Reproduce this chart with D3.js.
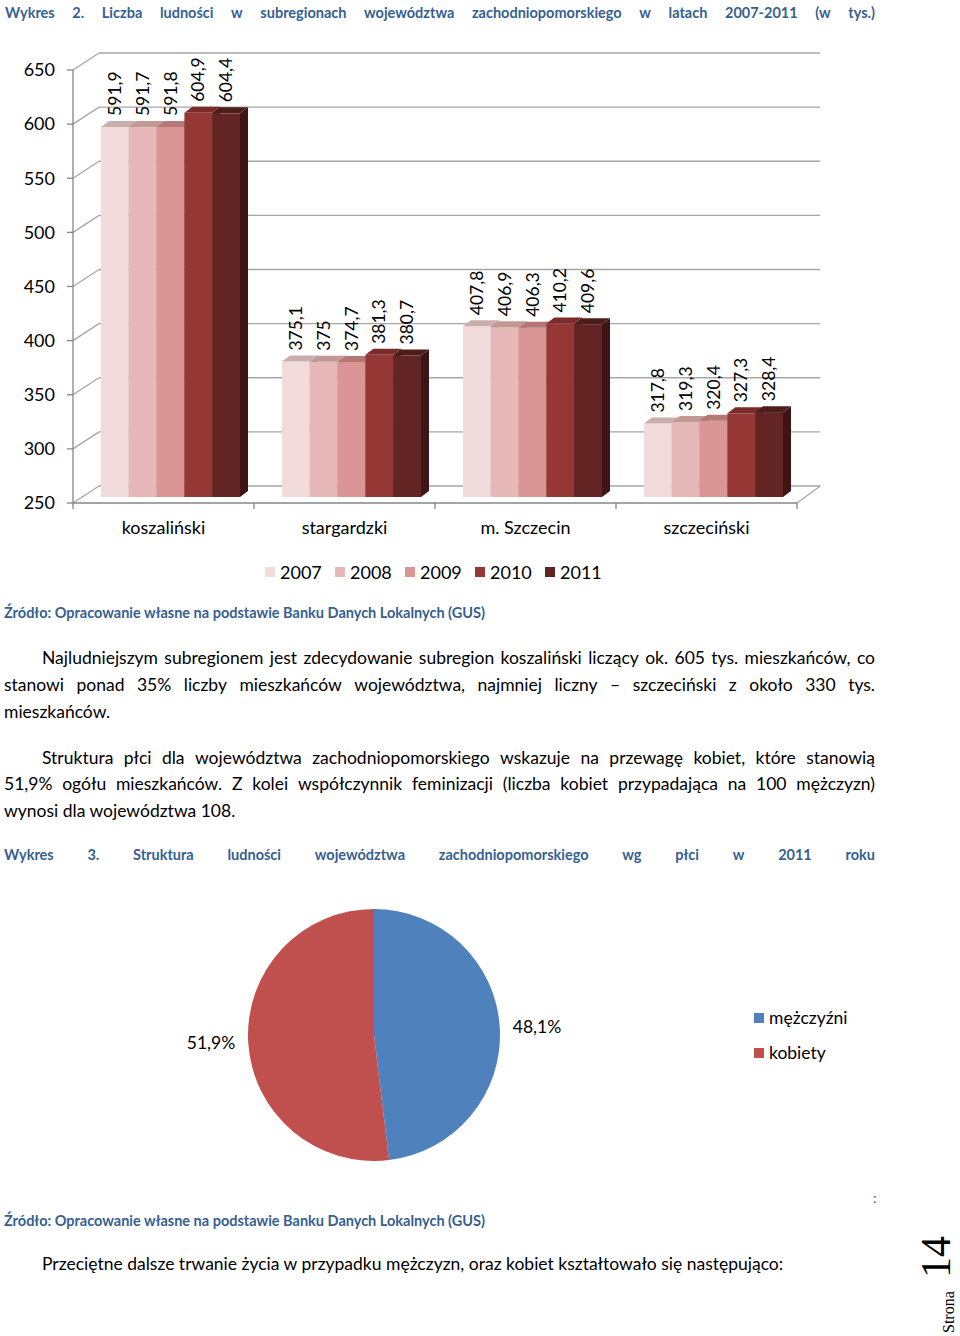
<!DOCTYPE html>
<html><head><meta charset="utf-8">
<script src="https://cdn.jsdelivr.net/npm/d3@7"></script>
<style>body{margin:0;background:#fff} svg{display:block}</style>
</head><body><script>
// ---------- DATA ----------
const categories = ["koszaliński", "stargardzki", "m. Szczecin", "szczeciński"];
const years = ["2007", "2008", "2009", "2010", "2011"];
const v2007 = [591.9, 375.1, 407.8, 317.8];
const v2008 = [591.7, 375.0, 406.9, 319.3];
const v2009 = [591.8, 374.7, 406.3, 320.4];
const v2010 = [604.9, 381.3, 410.2, 327.3];
const v2011 = [604.4, 380.7, 409.6, 328.4];
const yTicks = [250, 300, 350, 400, 450, 500, 550, 600, 650];
const pieLabels = ["mężczyźni", "kobiety"];
const pieValues = [48.1, 51.9];

const series = [v2007, v2008, v2009, v2010, v2011];
const frontCol = ["#f2dcdb", "#e6b9b8", "#d99694", "#953735", "#632523"];
const topCol   = ["#c9aeab", "#c29894", "#b47774", "#7b2c2a", "#4e1c1b"];
const sideCol  = ["#b9a09e", "#ae8683", "#9f6664", "#5f2321", "#3e1514"];

const W = 960, H = 1336;
const svg = d3.select("body").append("svg").attr("width", W).attr("height", H);
const BLUE = "#365f91";
const FONT = "Lato, 'Open Sans', sans-serif";

function justify(words, x0, x1, y, size, weight, color) {
  const g = svg.append("g");
  const nodes = words.map(w => g.append("text").text(w).attr("y", y)
    .attr("font-family", FONT).attr("font-size", size).attr("font-weight", weight)
    .attr("fill", color));
  const lens = nodes.map(n => n.node().getComputedTextLength());
  const total = d3.sum(lens);
  const gap = (x1 - x0 - total) / (words.length - 1);
  let x = x0;
  nodes.forEach((n, i) => { n.attr("x", x); x += lens[i] + gap; });
}
function plain(str, x, y, size, weight, color, anchor) {
  return svg.append("text").text(str).attr("x", x).attr("y", y)
    .attr("font-family", FONT).attr("font-size", size).attr("font-weight", weight || "normal")
    .attr("fill", color || "#000").attr("text-anchor", anchor || "start");
}

// ---------- TITLE 1 ----------
justify("Wykres 2. Liczba ludności w subregionach województwa zachodniopomorskiego w latach 2007-2011 (w tys.)".split(" "),
  5, 875, 18, 14.5, "bold", BLUE);

// ---------- 3D BAR CHART ----------
const y = d3.scaleLinear().domain([250, 650]).range([503, 70]);
const x = d3.scaleBand().domain(categories).range([73, 797]);
const xs = d3.scaleBand().domain(years).range([19, 158]);
const DX = 26, DY = -17;     // wall depth
const BX = 9, BY = -6;       // bar front plane offset
const SX = 8, SY = -6;       // bar depth
const GRID = "#a6a6a6";

const chart = svg.append("g");
yTicks.forEach(t => {
  chart.append("line").attr("x1", 73 + DX).attr("x2", 820).attr("y1", y(t) + DY).attr("y2", y(t) + DY)
    .attr("stroke", GRID).attr("stroke-width", 1.3);
  chart.append("line").attr("x1", 73).attr("x2", 73 + DX).attr("y1", y(t)).attr("y2", y(t) + DY)
    .attr("stroke", GRID).attr("stroke-width", 1.3);
  chart.append("line").attr("x1", 67).attr("x2", 73).attr("y1", y(t)).attr("y2", y(t))
    .attr("stroke", "#868686").attr("stroke-width", 1.3);
  chart.append("text").text(t).attr("x", 55).attr("y", y(t)).attr("dy", "0.35em")
    .attr("text-anchor", "end").attr("font-family", FONT).attr("font-size", 18).attr("fill", "#000");
});
chart.append("line").attr("x1", 73).attr("x2", 73).attr("y1", y(650)).attr("y2", y(250))
  .attr("stroke", "#868686").attr("stroke-width", 1.3);
chart.append("line").attr("x1", 73).attr("x2", 797).attr("y1", y(250)).attr("y2", y(250))
  .attr("stroke", "#868686").attr("stroke-width", 1.3);
chart.append("line").attr("x1", 797).attr("x2", 797 + DX * 0.9).attr("y1", y(250)).attr("y2", y(250) + DY)
  .attr("stroke", GRID).attr("stroke-width", 1.3);
[73, ...categories.map(c => x(c) + x.bandwidth())].forEach(px => {
  chart.append("line").attr("x1", px).attr("x2", px).attr("y1", y(250)).attr("y2", y(250) + 6)
    .attr("stroke", "#868686").attr("stroke-width", 1.3);
});
categories.forEach(c => {
  chart.append("text").text(c).attr("x", x(c) + x.bandwidth() / 2).attr("y", 534)
    .attr("text-anchor", "middle").attr("font-family", FONT).attr("font-size", 18).attr("fill", "#000");
});

const fmt = v => String(v).replace(".", ",");
categories.forEach((c, ci) => {
  years.forEach((yr, si) => {
    const v = series[si][ci];
    const x0 = x(c) + BX + xs(yr), w = xs.bandwidth();
    const yb = y(250) + BY, yt = y(v) + BY;
    chart.append("rect").attr("x", x0).attr("y", yt).attr("width", w).attr("height", yb - yt)
      .attr("fill", frontCol[si]);
    chart.append("path").attr("d", `M${x0 + w},${yt}L${x0 + w + SX},${yt + SY}L${x0 + w + SX},${yb + SY}L${x0 + w},${yb}Z`)
      .attr("fill", sideCol[si]);
    chart.append("path").attr("d", `M${x0},${yt}L${x0 + SX},${yt + SY}L${x0 + w + SX},${yt + SY}L${x0 + w},${yt}Z`)
      .attr("fill", topCol[si]);
    chart.append("text").text(fmt(v))
      .attr("transform", `translate(${x0 + w / 2 + 6},${yt + SY - 5}) rotate(-90)`)
      .attr("font-family", FONT).attr("font-size", 17.5).attr("fill", "#000");
  });
});

const legX = [265, 335, 405, 475, 545];
years.forEach((yr, i) => {
  svg.append("rect").attr("x", legX[i]).attr("y", 567).attr("width", 10).attr("height", 10).attr("fill", frontCol[i]);
  plain(yr, legX[i] + 15, 578.5, 18);
});

plain("Źródło: Opracowanie własne na podstawie Banku Danych Lokalnych (GUS)", 4, 618, 14.5, "bold", BLUE);

// ---------- BODY TEXT ----------
justify("Najludniejszym subregionem jest zdecydowanie subregion koszaliński liczący ok. 605 tys. mieszkańców, co".split(" "), 42, 875, 664, 17.5, "normal", "#000");
justify("stanowi ponad 35% liczby mieszkańców województwa, najmniej liczny – szczeciński z około 330 tys.".split(" "), 4, 875, 691, 17.5, "normal", "#000");
plain("mieszkańców.", 4, 718, 17.5);
justify("Struktura płci dla województwa zachodniopomorskiego wskazuje na przewagę kobiet, które stanowią".split(" "), 42, 875, 764, 17.5, "normal", "#000");
justify("51,9% ogółu mieszkańców. Z kolei współczynnik feminizacji (liczba kobiet przypadająca na 100 mężczyzn)".split(" "), 4, 875, 790, 17.5, "normal", "#000");
plain("wynosi dla województwa 108.", 4, 817, 17.5);

// ---------- TITLE 2 ----------
justify("Wykres 3. Struktura ludności województwa zachodniopomorskiego wg płci w 2011 roku".split(" "),
  4, 875, 860, 14.5, "bold", BLUE);

// ---------- PIE ----------
const pieCol = ["#4f81bd", "#c0504d"];
const cx = 374, cy = 1035, R = 126;
const pie = d3.pie().sort(null)(pieValues);
const arc = d3.arc().innerRadius(0).outerRadius(R);
const labArc = d3.arc().innerRadius(139).outerRadius(139);
const pg = svg.append("g").attr("transform", `translate(${cx},${cy})`);
pg.selectAll("path").data(pie).join("path").attr("d", arc).attr("fill", (d, i) => pieCol[i]);
pg.selectAll("text").data(pie).join("text")
  .attr("x", d => labArc.centroid(d)[0]).attr("y", d => labArc.centroid(d)[1])
  .attr("dy", "0.35em")
  .attr("text-anchor", d => labArc.centroid(d)[0] > 0 ? "start" : "end")
  .attr("font-family", FONT).attr("font-size", 17.5).attr("fill", "#000")
  .text(d => fmt(d.data) + "%");
pieLabels.forEach((l, i) => {
  svg.append("rect").attr("x", 754).attr("y", 1013 + i * 35).attr("width", 10).attr("height", 10).attr("fill", pieCol[i]);
  plain(l, 769, 1024 + i * 35, 17.5);
});

plain(":", 873, 1203, 14, "normal", "#555");
plain("Źródło: Opracowanie własne na podstawie Banku Danych Lokalnych (GUS)", 4, 1226, 14.5, "bold", BLUE);
plain("Przeciętne dalsze trwanie życia w przypadku mężczyzn, oraz kobiet kształtowało się następująco:", 42, 1270, 17.5);

// page number
svg.append("text").text("14").attr("transform", "translate(950,1278) rotate(-90)")
  .attr("font-family", "'Liberation Serif', 'DejaVu Serif', serif").attr("font-size", 42).attr("fill", "#000");
svg.append("text").text("Strona").attr("transform", "translate(954,1333) rotate(-90)")
  .attr("font-family", "'Liberation Serif', 'DejaVu Serif', serif").attr("font-size", 16).attr("fill", "#000");
</script></body></html>
